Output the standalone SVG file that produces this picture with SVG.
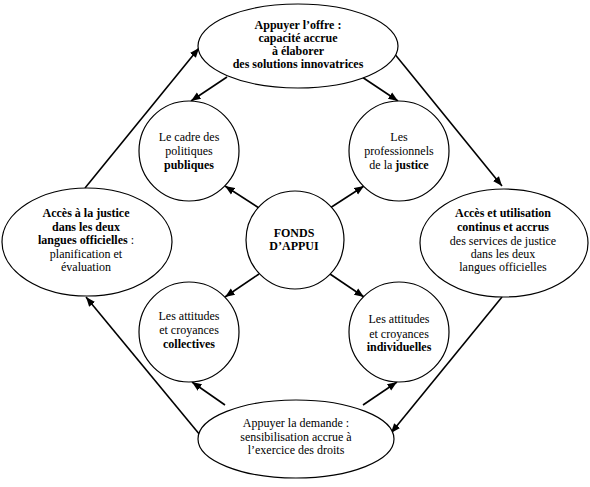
<svg xmlns="http://www.w3.org/2000/svg" width="590" height="487" viewBox="0 0 590 487">
<style>
.n{fill:#fff;stroke:#000;stroke-width:1.2}
.c{stroke:#000;stroke-width:1.6;fill:none;marker-end:url(#ah)}
.b{font-weight:bold}
</style>
<defs>
<marker id="ah" viewBox="0 0 10 10" refX="10" refY="5" markerWidth="6" markerHeight="6" orient="auto" markerUnits="strokeWidth">
<path d="M0,1 L10,5 L0,9 Z" fill="#000"/>
</marker>
</defs>
<rect width="590" height="487" fill="#fff"/>
<g id="connectors">
<line class="c" x1="227" y1="77" x2="191" y2="101"/>
<line class="c" x1="362" y1="77" x2="398" y2="101"/>
<line class="c" x1="259" y1="208" x2="225" y2="186"/>
<line class="c" x1="330" y1="208" x2="364" y2="186"/>
<line class="c" x1="259" y1="274" x2="225" y2="297"/>
<line class="c" x1="330" y1="274" x2="364" y2="297"/>
<line class="c" x1="225" y1="405" x2="192" y2="382"/>
<line class="c" x1="363" y1="405" x2="397" y2="382"/>
<line class="c" x1="85" y1="188" x2="199" y2="48"/>
<line class="c" x1="389" y1="47" x2="502" y2="186"/>
<line class="c" x1="502" y1="297" x2="391" y2="433"/>
<line class="c" x1="200" y1="435" x2="86" y2="297"/>
</g>
<g font-family="Liberation Serif, Times New Roman, serif" font-size="12" text-anchor="middle" fill="#000">
<g id="offre">
<ellipse class="n" cx="298" cy="46" rx="100" ry="42"/>
<text class="b" x="298" y="29">Appuyer l’offre :</text>
<text class="b" x="298" y="42">capacité accrue</text>
<text class="b" x="298" y="55">à élaborer</text>
<text class="b" x="298" y="68">des solutions innovatrices</text>
</g>
<g id="acces">
<ellipse class="n" cx="87" cy="242" rx="85" ry="54"/>
<text class="b" x="86" y="217">Accès à la justice</text>
<text class="b" x="86" y="231">dans les deux</text>
<text x="86" y="244"><tspan class="b">langues officielles</tspan> :</text>
<text x="86" y="258">planification et</text>
<text x="86" y="271">évaluation</text>
</g>
<g id="utilisation">
<ellipse class="n" cx="504" cy="243" rx="84" ry="54"/>
<text class="b" x="503" y="217">Accès et utilisation</text>
<text class="b" x="503" y="231">continus et accrus</text>
<text x="503" y="245">des services de justice</text>
<text x="503" y="258">dans les deux</text>
<text x="503" y="271">langues officielles</text>
</g>
<g id="demande">
<ellipse class="n" cx="296" cy="439" rx="98" ry="39"/>
<text x="296" y="427">Appuyer la demande :</text>
<text x="296" y="441">sensibilisation accrue à</text>
<text x="296" y="454">l’exercice des droits</text>
</g>
<g id="cadre">
<circle class="n" cx="189" cy="151" r="50"/>
<text x="189" y="141">Le cadre des</text>
<text x="189" y="155">politiques</text>
<text class="b" x="189" y="169">publiques</text>
</g>
<g id="professionnels">
<circle class="n" cx="399" cy="151" r="50"/>
<text x="399" y="141">Les</text>
<text x="399" y="155">professionnels</text>
<text x="399" y="169">de la <tspan class="b">justice</tspan></text>
</g>
<g id="fonds">
<circle class="n" cx="295" cy="240" r="49"/>
<text class="b" x="294" y="237">FONDS</text>
<text class="b" x="294" y="250">D’APPUI</text>
</g>
<g id="collectives">
<circle class="n" cx="189" cy="332" r="50"/>
<text x="189" y="320">Les attitudes</text>
<text x="189" y="334">et croyances</text>
<text class="b" x="189" y="348">collectives</text>
</g>
<g id="individuelles">
<circle class="n" cx="399" cy="332" r="50"/>
<text x="399" y="323">Les attitudes</text>
<text x="399" y="338">et croyances</text>
<text class="b" x="399" y="351">individuelles</text>
</g>
</g>
</svg>
